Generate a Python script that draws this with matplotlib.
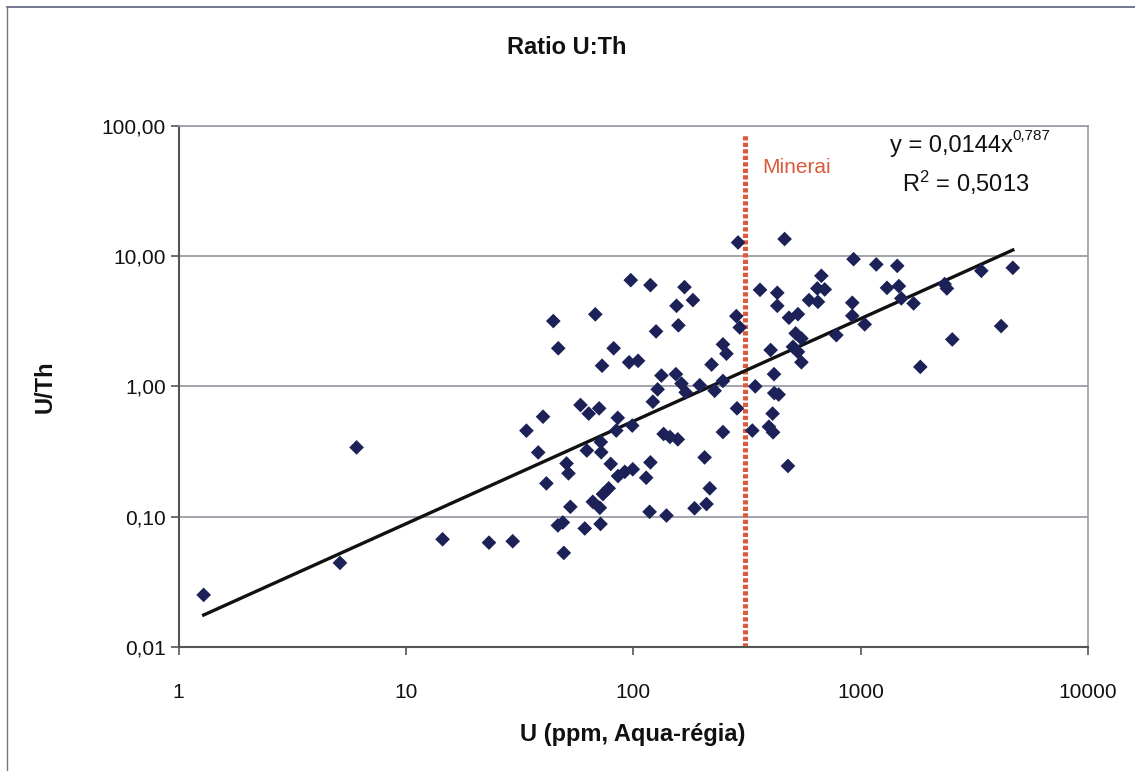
import matplotlib
matplotlib.use("Agg")
import matplotlib.pyplot as plt
import numpy as np
from matplotlib.lines import Line2D

plt.rcParams['font.family'] = ['Liberation Sans', 'DejaVu Sans']
plt.rcParams['mathtext.fontset'] = 'custom'
plt.rcParams['mathtext.rm'] = 'Liberation Sans'
plt.rcParams['mathtext.it'] = 'Liberation Sans:italic'
plt.rcParams['mathtext.bf'] = 'Liberation Sans:bold'

# ---- data ----
u_ppm = [1.29, 5.13, 6.07, 14.5, 23.2, 29.5, 33.9, 40.1, 38.2, 41.5,
         44.5, 46.8, 46.6, 49.0, 49.5, 50.9, 51.9, 52.9, 58.6, 61.2,
         62.5, 63.7, 66.4, 68.1, 70.8, 71.3, 71.8, 72.0, 72.3, 72.9,
         73.6, 78.0, 79.6, 82.0, 84.2, 85.5, 85.7, 91.8, 95.9, 97.5,
         99.5, 99.0, 105, 114, 119, 119, 118, 122, 126, 128,
         133, 136, 140, 145, 155, 154, 157, 158, 163, 168,
         170, 183, 186, 196, 206, 210, 217, 221, 228, 248,
         248, 248, 257, 284, 286, 289, 294, 334, 344, 361,
         395, 402, 410, 412, 416, 417, 436, 430, 430, 463,
         479, 484, 504, 518, 530, 530, 549, 549, 593, 645,
         649, 672, 695, 782, 919, 919, 931, 1042, 1172, 1306,
         1449, 1473, 1510, 1710, 1830, 2340, 2395, 2530, 3395, 4150,
         4670]
u_th = [0.0251, 0.0442, 0.340, 0.0671, 0.0632, 0.0648, 0.457, 0.585, 0.311, 0.180,
        3.17, 1.96, 0.0857, 0.0903, 0.0527, 0.256, 0.215, 0.119, 0.719, 0.0812,
        0.322, 0.618, 0.130, 3.57, 0.678, 0.117, 0.0879, 0.374, 0.312, 1.44,
        0.149, 0.165, 0.254, 1.96, 0.458, 0.573, 0.205, 0.221, 1.53, 6.53,
        0.231, 0.500, 1.57, 0.199, 5.98, 0.261, 0.109, 0.762, 2.64, 0.948,
        1.21, 0.431, 0.102, 0.409, 4.15, 1.24, 0.392, 2.94, 1.05, 5.77,
        0.900, 4.59, 0.116, 1.02, 0.285, 0.125, 0.165, 1.47, 0.925, 2.10,
        1.10, 0.446, 1.78, 3.46, 0.678, 12.7, 2.83, 0.458, 1.00, 5.50,
        0.490, 1.90, 0.618, 0.444, 1.24, 0.888, 0.865, 5.22, 4.15, 13.5,
        0.245, 3.36, 2.01, 2.55, 3.58, 1.84, 2.33, 1.53, 4.59, 5.64,
        4.45, 7.05, 5.54, 2.47, 4.38, 3.48, 9.46, 2.99, 8.62, 5.70,
        8.41, 5.88, 4.73, 4.33, 1.41, 6.09, 5.64, 2.29, 7.70, 2.90,
        8.12]

fit_coef = 0.0144
fit_exp = 0.787
r_squared = 0.5013
minerai_threshold = 310

x_ticks = [1, 10, 100, 1000, 10000]
x_ticklabels = ['1', '10', '100', '1000', '10000']
y_ticks = [0.01, 0.1, 1, 10, 100]
y_ticklabels = ['0,01', '0,10', '1,00', '10,00', '100,00']

# ---- figure ----
W, H = 1135, 771
fig = plt.figure(figsize=(W / 100, H / 100), dpi=100)
ax = fig.add_axes([178.5 / W, 1 - 647 / H, (1088 - 178.5) / W, (647 - 125.7) / H])
ax.set_xscale('log')
ax.set_yscale('log')
ax.set_xlim(1, 10000)
ax.set_ylim(0.01, 100)

ax.set_xticks(x_ticks)
ax.set_xticklabels(x_ticklabels)
ax.set_yticks(y_ticks)
ax.set_yticklabels(y_ticklabels)
ax.minorticks_off()
ax.tick_params(axis='both', direction='out', length=6, width=1.2, color='#555555',
               labelsize=15, labelcolor='#111111')
ax.tick_params(axis='x', pad=20)
ax.tick_params(axis='y', pad=3)

for s in ['left', 'bottom']:
    ax.spines[s].set_color('#555555')
    ax.spines[s].set_linewidth(1.5)
for s in ['top', 'right']:
    ax.spines[s].set_color('#9a9aa8')
    ax.spines[s].set_linewidth(1.2)

ax.yaxis.grid(True, color='#8a8a96', linewidth=1.1)
ax.set_axisbelow(True)

# threshold line
ax.vlines(minerai_threshold, 0.01, 87, colors='#dc5a3c', linewidth=3.6,
          linestyles=(0, (0.85, 0.45)), zorder=2)
ax.text(0.642, 0.919, 'Minerai', transform=ax.transAxes, color='#dc5a3c',
        fontsize=15, ha='left', va='center')

# trendline
xs = np.logspace(np.log10(min(u_ppm)), np.log10(max(u_ppm)), 100)
ax.plot(xs, fit_coef * xs ** fit_exp, color='#111111', linewidth=2.4, zorder=3)

# points
ax.scatter(u_ppm, u_th, marker='D', s=56, color='#1c2258', edgecolors='none', zorder=4)

# equation
eq = ax.text(0.782, 0.961, 'y = 0,0144x', transform=ax.transAxes, fontsize=17,
             ha='left', va='center', color='#111111')
ax.annotate('0,787', xy=(1.0, 0.62), xycoords=eq, fontsize=11, ha='left',
            va='bottom', color='#111111')
ax.text(0.796, 0.890, r'R$^{2}$ = 0,5013', transform=ax.transAxes, fontsize=17,
        ha='left', va='center', color='#111111')

# titles
fig.text(567 / W, 1 - 48 / H, 'Ratio U:Th', fontsize=17, fontweight='bold',
         ha='center', va='center', color='#111111')
fig.text(633 / W, 1 - 735 / H, 'U (ppm, Aqua-r\u00e9gia)', fontsize=17,
         fontweight='bold', ha='center', va='center', color='#111111')
fig.text(45 / W, 1 - 387 / H, 'U/Th', fontsize=17, fontweight='bold',
         rotation=90, ha='center', va='center', color='#111111')

# chart border
fig.add_artist(Line2D([7 / W, 1], [1 - 7 / H, 1 - 7 / H], transform=fig.transFigure,
                      color='#5a6080', linewidth=1.2))
fig.add_artist(Line2D([7 / W, 7 / W], [0, 1 - 7 / H], transform=fig.transFigure,
                      color='#777777', linewidth=1.0))

fig.savefig('out.png', dpi=100)
